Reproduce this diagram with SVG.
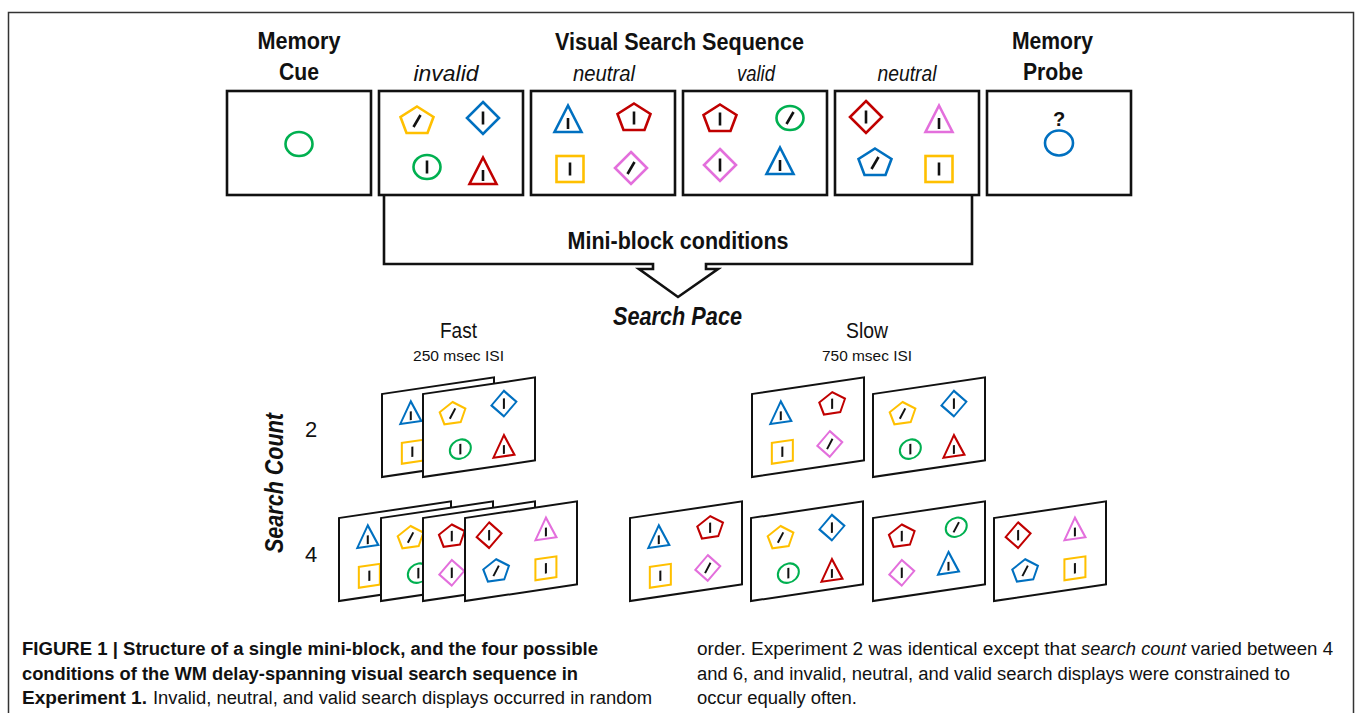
<svg xmlns="http://www.w3.org/2000/svg" xmlns:xlink="http://www.w3.org/1999/xlink" width="1355" height="713" viewBox="0 0 1355 713">
<style>
text{font-family:"Liberation Sans Narrow","Liberation Sans",Arial,sans-serif;fill:#111}
.hd{font-size:24.5px;font-weight:bold;text-anchor:middle}
.it{font-size:22px;font-style:italic;text-anchor:middle}
.rg{font-size:22px;text-anchor:middle}
.sm{font-size:15px;text-anchor:middle}
.cap{font-size:18px}
.b{font-weight:bold}
.box{fill:#fff;stroke:#111;stroke-width:2.6}
.panel{fill:#fff;stroke:#111;stroke-width:2}
.sh{fill:none;stroke-width:2.6;stroke-linejoin:miter}
.ln{stroke:#111;stroke-width:2.6}
.Y{stroke:#FFC000}.B{stroke:#0070C0}.G{stroke:#00B050}.R{stroke:#C00000}.M{stroke:#E36FDC}
</style>
<defs>
<polygon id="pent" points="0,-13.5 16.5,-3 10.5,13 -10.5,13 -16.5,-3"/>
<polygon id="dia" points="0,-16 16,0 0,16 -16,0"/>
<ellipse id="circ" rx="13.5" ry="12"/>
<polygon id="tri" points="0,-13.5 13.5,13 -13.5,13"/>
<rect id="sq" x="-13.5" y="-13" width="27" height="26"/>
<line id="vl" x1="0" y1="-6.5" x2="0" y2="6.5"/>
<line id="sl" x1="-3.5" y1="6" x2="3.5" y2="-6"/>
<line id="tl" x1="0" y1="-1" x2="0" y2="10"/>
<g id="d-invalid">
<use href="#pent" x="38" y="29" class="sh Y"/><use href="#sl" x="38" y="30" class="ln"/>
<use href="#dia" x="104" y="27" class="sh B"/><use href="#vl" x="104" y="27" class="ln"/>
<use href="#circ" x="48" y="76" class="sh G"/><use href="#vl" x="48" y="76" class="ln"/>
<use href="#tri" x="104" y="80" class="sh R"/><use href="#tl" x="104" y="80" class="ln"/>
</g>
<g id="d-neutral1">
<use href="#tri" x="37" y="28" class="sh B"/><use href="#tl" x="37" y="28" class="ln"/>
<use href="#pent" x="103" y="26" class="sh R"/><use href="#vl" x="103" y="27" class="ln"/>
<use href="#sq" x="39" y="78" class="sh Y"/><use href="#vl" x="39" y="78" class="ln"/>
<use href="#dia" x="100" y="77" class="sh M"/><use href="#sl" x="100" y="77" class="ln"/>
</g>
<g id="d-valid">
<use href="#pent" x="37" y="27" class="sh R"/><use href="#vl" x="37" y="28" class="ln"/>
<use href="#circ" x="107" y="27" class="sh G"/><use href="#sl" x="107" y="27" class="ln"/>
<use href="#dia" x="37" y="74" class="sh M"/><use href="#vl" x="37" y="74" class="ln"/>
<use href="#tri" x="97" y="70" class="sh B"/><use href="#tl" x="97" y="70" class="ln"/>
</g>
<g id="d-neutral2">
<use href="#dia" x="31" y="26" class="sh R"/><use href="#vl" x="31" y="26" class="ln"/>
<use href="#tri" x="104" y="28" class="sh M"/><use href="#tl" x="104" y="28" class="ln"/>
<use href="#pent" x="40" y="71" class="sh B"/><use href="#sl" x="40" y="72" class="ln"/>
<use href="#sq" x="104" y="78" class="sh Y"/><use href="#vl" x="104" y="78" class="ln"/>
</g>
</defs>

<rect width="1355" height="713" fill="#fff"/>
<path d="M8.5,713 V12.5 H1353.5 V713" fill="none" stroke="#333" stroke-width="1.5"/>

<!-- headings -->
<text class="hd" x="299" y="49" textLength="83" lengthAdjust="spacingAndGlyphs">Memory</text>
<text class="hd" x="299" y="80" textLength="40" lengthAdjust="spacingAndGlyphs">Cue</text>
<text class="hd" x="679.5" y="50" textLength="249" lengthAdjust="spacingAndGlyphs">Visual Search Sequence</text>
<text class="hd" x="1052.5" y="49" textLength="81" lengthAdjust="spacingAndGlyphs">Memory</text>
<text class="hd" x="1053" y="80" textLength="60" lengthAdjust="spacingAndGlyphs">Probe</text>
<text class="it" x="446" y="81" textLength="65" lengthAdjust="spacingAndGlyphs">invalid</text>
<text class="it" x="604" y="81" textLength="62" lengthAdjust="spacingAndGlyphs">neutral</text>
<text class="it" x="756" y="81" textLength="38" lengthAdjust="spacingAndGlyphs">valid</text>
<text class="it" x="907" y="81" textLength="59" lengthAdjust="spacingAndGlyphs">neutral</text>

<!-- top row nodes -->
<g id="memory-cue">
<rect class="box" x="227" y="91" width="144" height="104"/>
<use href="#circ" x="299" y="144" class="sh G"/>
</g>
<g id="display-invalid">
<rect class="box" x="379" y="91" width="144" height="104"/>
<use href="#d-invalid" x="379" y="91"/>
</g>
<g id="display-neutral-1">
<rect class="box" x="531" y="91" width="144" height="104"/>
<use href="#d-neutral1" x="531" y="91"/>
</g>
<g id="display-valid">
<rect class="box" x="683" y="91" width="144" height="104"/>
<use href="#d-valid" x="683" y="91"/>
</g>
<g id="display-neutral-2">
<rect class="box" x="835" y="91" width="144" height="104"/>
<use href="#d-neutral2" x="835" y="91"/>
</g>
<g id="memory-probe">
<rect class="box" x="987" y="91" width="144" height="104"/>
<text x="1059" y="126" style="font-size:20px;font-weight:bold;text-anchor:middle">?</text>
<ellipse cx="1059" cy="143" rx="14" ry="12.5" class="sh B"/>
</g>

<!-- connectors -->
<g id="connectors">
<path d="M384,195 V264 H653 V269 H639 L678,297 L718,269 H706 V264 H972 V195" fill="none" stroke="#111" stroke-width="2.6" stroke-linejoin="miter"/>
</g>
<text x="678" y="249" style="font-size:23px;font-weight:bold;text-anchor:middle" textLength="221" lengthAdjust="spacingAndGlyphs">Mini-block conditions</text>
<text x="677.5" y="325" style="font-size:25px;font-weight:bold;font-style:italic;text-anchor:middle" textLength="129" lengthAdjust="spacingAndGlyphs">Search Pace</text>

<text class="rg" x="458.5" y="338" textLength="37" lengthAdjust="spacingAndGlyphs">Fast</text>
<text class="sm" x="458.5" y="361" textLength="91" lengthAdjust="spacingAndGlyphs">250 msec ISI</text>
<text class="rg" x="867" y="338" textLength="42" lengthAdjust="spacingAndGlyphs">Slow</text>
<text class="sm" x="867" y="361" textLength="90" lengthAdjust="spacingAndGlyphs">750 msec ISI</text>

<text transform="translate(283,483) rotate(-90)" style="font-size:26px;font-weight:bold;font-style:italic;text-anchor:middle" textLength="140" lengthAdjust="spacingAndGlyphs">Search Count</text>
<text class="rg" x="311" y="437">2</text>
<text class="rg" x="311" y="562">4</text>

<!-- fast, count 2 -->
<g id="fast2-1" transform="translate(382,394) skewY(-8.4)"><rect class="panel" width="112" height="83"/><use href="#d-neutral1" transform="scale(0.778,0.798)"/></g>
<g id="fast2-2" transform="translate(423,394) skewY(-8.4)"><rect class="panel" width="112" height="83"/><use href="#d-invalid" transform="scale(0.778,0.798)"/></g>
<!-- slow, count 2 -->
<g id="slow2-1" transform="translate(752,394) skewY(-8.4)"><rect class="panel" width="112" height="83"/><use href="#d-neutral1" transform="scale(0.778,0.798)"/></g>
<g id="slow2-2" transform="translate(873,394) skewY(-8.4)"><rect class="panel" width="112" height="83"/><use href="#d-invalid" transform="scale(0.778,0.798)"/></g>
<!-- fast, count 4 -->
<g id="fast4-1" transform="translate(339,518) skewY(-8.4)"><rect class="panel" width="112" height="83"/><use href="#d-neutral1" transform="scale(0.778,0.798)"/></g>
<g id="fast4-2" transform="translate(381,518) skewY(-8.4)"><rect class="panel" width="112" height="83"/><use href="#d-invalid" transform="scale(0.778,0.798)"/></g>
<g id="fast4-3" transform="translate(423,518) skewY(-8.4)"><rect class="panel" width="112" height="83"/><use href="#d-valid" transform="scale(0.778,0.798)"/></g>
<g id="fast4-4" transform="translate(465,518) skewY(-8.4)"><rect class="panel" width="112" height="83"/><use href="#d-neutral2" transform="scale(0.778,0.798)"/></g>
<!-- slow, count 4 -->
<g id="slow4-1" transform="translate(630,518) skewY(-8.4)"><rect class="panel" width="112" height="83"/><use href="#d-neutral1" transform="scale(0.778,0.798)"/></g>
<g id="slow4-2" transform="translate(751,518) skewY(-8.4)"><rect class="panel" width="112" height="83"/><use href="#d-invalid" transform="scale(0.778,0.798)"/></g>
<g id="slow4-3" transform="translate(873,518) skewY(-8.4)"><rect class="panel" width="112" height="83"/><use href="#d-valid" transform="scale(0.778,0.798)"/></g>
<g id="slow4-4" transform="translate(994,518) skewY(-8.4)"><rect class="panel" width="112" height="83"/><use href="#d-neutral2" transform="scale(0.778,0.798)"/></g>

<!-- caption -->
<g id="caption">
<text class="cap b" x="22" y="655" textLength="576" lengthAdjust="spacingAndGlyphs">FIGURE 1 | Structure of a single mini-block, and the four possible</text>
<text class="cap b" x="22" y="680" textLength="556" lengthAdjust="spacingAndGlyphs">conditions of the WM delay-spanning visual search sequence in</text>
<text class="cap b" x="22" y="704" textLength="125" lengthAdjust="spacingAndGlyphs">Experiment 1.</text>
<text class="cap" x="153" y="704" textLength="499" lengthAdjust="spacingAndGlyphs">Invalid, neutral, and valid search displays occurred in random</text>
<text class="cap" x="697" y="655" textLength="379" lengthAdjust="spacingAndGlyphs">order. Experiment 2 was identical except that</text>
<text class="cap" x="1081" y="655" textLength="105" lengthAdjust="spacingAndGlyphs" style="font-style:italic">search count</text>
<text class="cap" x="1191" y="655" textLength="142" lengthAdjust="spacingAndGlyphs">varied between 4</text>
<text class="cap" x="697" y="680" textLength="593" lengthAdjust="spacingAndGlyphs">and 6, and invalid, neutral, and valid search displays were constrained to</text>
<text class="cap" x="697" y="704" textLength="160" lengthAdjust="spacingAndGlyphs">occur equally often.</text>
</g>
</svg>
